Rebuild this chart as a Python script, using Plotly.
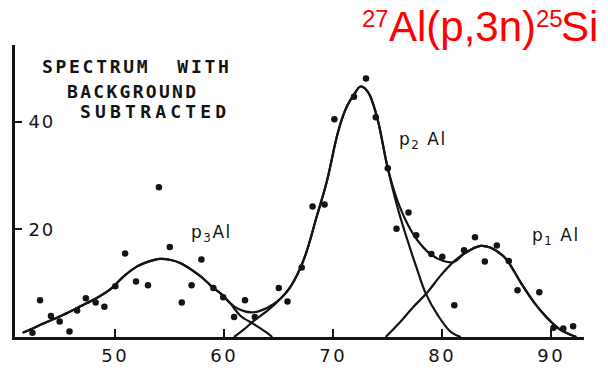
import plotly.graph_objects as go

# Measured spectrum (background subtracted): channel energy and counts
energy = [42.4, 43.1, 44.1, 44.9, 45.8, 46.5, 47.3, 48.2, 49.0, 50.0, 50.9, 51.9, 53.0,
          54.0, 55.0, 56.1, 57.0, 57.9, 59.0, 59.9, 60.9, 61.9, 62.8, 65.0, 65.8, 67.1,
          68.1, 69.2, 70.1, 71.9, 73.0, 73.9, 75.0, 75.8, 76.9, 77.6, 79.0, 80.0, 81.1,
          82.0, 83.0, 83.9, 85.0, 86.1, 86.9, 88.9, 90.2, 91.1, 92.0]
counts = [0.8, 6.8, 3.9, 2.9, 1.0, 4.9, 7.2, 6.4, 5.6, 9.4, 15.5, 10.3, 9.6,
          27.8, 16.7, 6.4, 9.6, 14.4, 9.1, 7.4, 3.7, 6.8, 3.7, 9.1, 6.6, 12.9,
          24.2, 24.6, 40.4, 44.6, 48.0, 40.8, 31.3, 20.1, 23.1, 18.9, 15.4, 14.9, 5.9,
          16.1, 18.5, 14.0, 17.0, 14.1, 8.7, 8.3, 1.7, 1.6, 2.0]

# Fitted peak components
p3_x = [41.5, 42.2, 43.4, 45.0, 46.5, 48.0, 49.5, 50.8, 52.0, 52.9, 54.1, 55.1, 56.0,
        57.8, 59.0, 59.6, 60.6, 61.5, 62.7, 63.9, 64.4]
p3_y = [0.8, 1.4, 2.5, 3.9, 5.4, 6.9, 8.8, 11.3, 13.1, 13.9, 14.5, 14.3, 13.7,
        11.3, 9.1, 8.2, 6.1, 3.9, 2.4, 0.8, 0.0]

p2_x = [60.9, 61.8, 62.7, 63.9, 65.1, 66.1, 67.3, 68.5, 69.4, 70.3, 70.8, 71.3, 71.9,
        72.5, 73.2, 74.0, 75.0, 75.9, 76.8, 77.7, 78.5, 79.6, 80.8, 81.7]
p2_y = [0.0, 1.4, 3.0, 4.8, 7.0, 9.4, 14.4, 22.5, 28.8, 37.0, 40.5, 43.0, 45.0,
        46.5, 45.4, 40.9, 31.3, 24.0, 18.0, 12.5, 8.0, 4.0, 0.9, 0.0]

p1_x = [74.8, 76.1, 77.4, 78.6, 79.8, 81.0, 82.1, 83.5, 84.4, 85.6, 86.1, 87.2, 88.5,
        89.6, 90.8, 92.3]
p1_y = [0.0, 2.7, 5.7, 8.2, 11.3, 13.9, 15.6, 16.9, 16.6, 15.0, 13.8, 10.1, 6.2,
        3.6, 1.4, 0.0]

# Sum of the three components
total_x = [41.5, 42.2, 43.4, 45.0, 46.5, 48.0, 49.5, 50.8, 52.0, 52.9, 54.1, 55.1, 56.0,
           57.8, 59.0, 59.6, 60.9, 61.8, 62.7, 63.9, 65.1, 66.1, 67.3, 68.5, 69.4, 70.3,
           70.8, 71.3, 71.9, 72.5, 73.2, 74.0, 75.0, 75.8, 76.8, 77.7, 78.9, 80.1, 81.0,
           82.1, 83.5, 84.4, 85.6, 86.1, 87.2, 88.5, 89.6, 90.8, 92.3]
total_y = [0.8, 1.4, 2.5, 3.9, 5.4, 6.9, 8.8, 11.3, 13.1, 13.9, 14.5, 14.3, 13.7,
           11.3, 9.1, 8.2, 5.7, 4.8, 4.6, 5.4, 7.0, 9.4, 14.4, 22.5, 28.8, 37.0,
           40.5, 43.0, 45.0, 46.5, 45.4, 40.9, 31.3, 25.8, 21.0, 18.0, 15.4, 14.1, 13.9,
           15.6, 16.9, 16.6, 15.0, 13.8, 10.1, 6.2, 3.6, 1.4, 0.0]

x_ticks = [50, 60, 70, 80, 90]
y_ticks = [20, 40]

INK = "#141414"
RED = "#ff0000"
LETTERING = "DejaVu Sans Mono"


def spaced(text, gap):
    return f'<span style="letter-spacing:{gap}px">{text}</span>'


fig = go.Figure()

for cx, cy in [(p3_x, p3_y), (p2_x, p2_y), (p1_x, p1_y), (total_x, total_y)]:
    fig.add_trace(go.Scatter(
        x=cx, y=cy, mode="lines",
        line=dict(color=INK, width=2.2, shape="spline", smoothing=1),
        hoverinfo="skip", cliponaxis=False,
    ))

fig.add_trace(go.Scatter(
    x=energy, y=counts, mode="markers",
    marker=dict(color=INK, size=6.5, line=dict(width=0)),
    cliponaxis=False,
))

# Header lettering
header = [
    ("SPECTRUM\u00a0\u00a0WITH", 43.3, 50.2, 2.7),
    ("BACKGROUND", 45.6, 45.6, 2.3),
    ("SUBTRACTED", 46.8, 41.9, 4.2),
]
for txt, hx, hy, gap in header:
    fig.add_annotation(
        x=hx, y=hy, xref="x", yref="y", text=spaced(txt, gap),
        showarrow=False, xanchor="left", yanchor="middle",
        borderpad=0, borderwidth=0,
        font=dict(family=LETTERING, size=18, color=INK, weight="bold"),
    )

# Peak labels
peaks = [
    ("p<sub>3</sub>Al", 56.8, 19.2),
    ("p<sub>2</sub>\u00a0Al", 75.8, 36.5),
    ("p<sub>1</sub>\u00a0Al", 88.0, 18.6),
]
for txt, lx, ly in peaks:
    fig.add_annotation(
        x=lx, y=ly, xref="x", yref="y", text=spaced(txt, 1.5),
        showarrow=False, xanchor="left", yanchor="middle",
        font=dict(family="DejaVu Sans", size=17, color=INK),
    )

# Reaction label: main text and mass-number superscripts
reaction = [
    ("27", 0.6094, 1.1364, 24),
    ("Al(p,3n)", 0.6573, 1.1454, 42),
    ("25", 0.9152, 1.1364, 24),
    ("Si", 0.9600, 1.1454, 42),
]
for txt, rx, ry, size in reaction:
    fig.add_annotation(
        x=rx, y=ry, xref="paper", yref="paper", text=txt,
        showarrow=False, xanchor="left", yanchor="top",
        borderpad=0, borderwidth=0,
        font=dict(family="Liberation Sans", size=size, color=RED),
    )

fig.update_layout(
    width=608, height=370,
    margin=dict(l=15, r=24, t=45, b=33),
    paper_bgcolor="white", plot_bgcolor="white",
    showlegend=False,
    xaxis=dict(
        range=[40.8, 93.0], showline=True, linewidth=3, linecolor=INK,
        ticks="inside", ticklen=8, tickwidth=2, tickcolor=INK,
        tickvals=x_ticks, ticktext=[spaced(str(v), 2.5) for v in x_ticks],
        ticklabelstandoff=0, automargin=False,
        showgrid=False, zeroline=False,
        tickfont=dict(family="DejaVu Sans", size=18, color=INK),
    ),
    yaxis=dict(
        range=[0, 54.2], showline=True, linewidth=3, linecolor=INK,
        ticks="inside", ticklen=7, tickwidth=2, tickcolor=INK,
        tickvals=y_ticks, ticktext=[spaced(str(v), 2) for v in y_ticks],
        ticklabelposition="inside", ticklabelstandoff=7, automargin=False,
        showgrid=False, zeroline=False,
        tickfont=dict(family="DejaVu Sans", size=18, color=INK),
    ),
)

fig.write_html("out.html")
